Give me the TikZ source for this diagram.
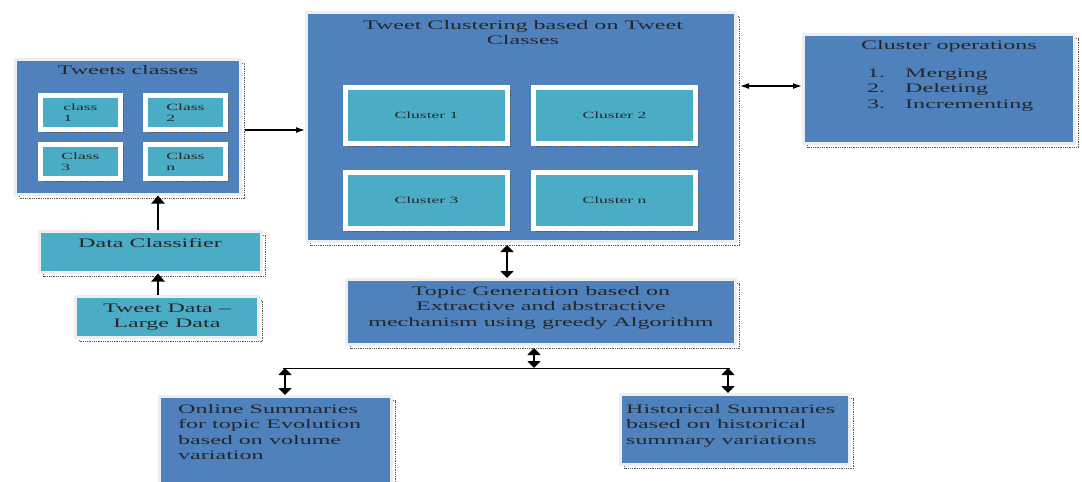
\documentclass[tikz,border=0pt]{standalone}
\usepackage{fontspec}
\setmainfont[FakeStretch=1.85]{Liberation Serif}
\usetikzlibrary{arrows.meta,shadows,positioning}

\definecolor{boxblue}{HTML}{4F81BD}
\definecolor{boxcyan}{HTML}{4BACC6}
\definecolor{framegray}{HTML}{EEEEEE}

\tikzset{
  boxshadow/.style={general shadow={draw=black!65, densely dotted, line width=0.8pt, shadow xshift=#1, shadow yshift=-#1}},
  boxshadow/.default=4pt,
  bluebox/.style={boxshadow, fill=boxblue, draw=framegray, line width=3pt, inner sep=0pt},
  cyanbox/.style={boxshadow, fill=boxcyan, draw=framegray, line width=3pt, inner sep=0pt,
    font=\fontsize{13}{15.5}\selectfont, text=black!85, align=center},
  classbox/.style={boxshadow=3pt, fill=boxcyan, draw=white, line width=5pt, inner sep=0pt,
    minimum width=80pt, minimum height=34pt, font=\fontsize{9.5}{11.5}\selectfont, text=black!85, align=left},
  clusterbox/.style={classbox, minimum width=162pt, minimum height=56pt, align=center},
  txt/.style={font=\fontsize{13}{15.5}\selectfont, text=black!85, inner sep=0pt, align=center},
  boxtitle/.style={txt, anchor=base},
  thickarr/.style={line width=2.6pt, -{Triangle[length=8pt,width=13pt]}},
  thickdbl/.style={line width=2.6pt, {Triangle[length=7pt,width=13pt]}-{Triangle[length=7pt,width=13pt]}},
  thinarr/.style={line width=1.3pt, -{Latex[length=9pt,width=6pt]}},
  thindbl/.style={line width=1.3pt, {Latex[length=9pt,width=6pt]}-{Latex[length=9pt,width=6pt]}}
}

\begin{document}
\begin{tikzpicture}[x=1pt, y=-1pt]
\useasboundingbox (0,0) rectangle (1082,482);
% tweets classes
\node[bluebox, minimum width=225pt, minimum height=135pt] (classes) at (128,126.5) {};
\node[boxtitle] (classtitle) at (128,74) {Tweets classes};
\node[classbox] (c1) at (80.5,112.5) {class\\1};
\node[classbox] (c2) at (185.5,112.5) {Class\\2};
\node[classbox] (c3) at (80.5,161.5) {Class\\3};
\node[classbox] (cn) at (185.5,161.5) {Class\\n};
% classifier and data
\node[cyanbox, minimum width=222pt, minimum height=41pt] (dc) at (150.5,251.5) {};
\node[boxtitle] (dctitle) at (150,247) {Data Classifier};
\node[cyanbox, minimum width=183pt, minimum height=41pt] (td) at (167,317) {Tweet Data –\\Large Data};
% clustering
\node[bluebox, minimum width=429pt, minimum height=229pt] (clust) at (521,127) {};
\node[txt, anchor=north] (clusttitle) at (523,20) {Tweet Clustering based on Tweet\\Classes};
\node[clusterbox] (k1) at (426.5,115.5) {Cluster 1};
\node[clusterbox] (k2) at (614.5,115.5) {Cluster 2};
\node[clusterbox] (k3) at (426.5,200) {Cluster 3};
\node[clusterbox] (kn) at (614.5,200) {Cluster n};
% operations
\node[bluebox, minimum width=271pt, minimum height=109pt] (ops) at (939,89) {};
\node[boxtitle] (opstitle) at (949,49) {Cluster operations};
\node[txt, anchor=base west] (opslist) at (867,77)
  {\begin{tabular}[t]{@{}l@{\hspace{20pt}}l@{}}1. & Merging\\ 2. & Deleting\\ 3. & Incrementing\end{tabular}};
% topic generation
\node[bluebox, minimum width=389pt, minimum height=65pt] (topic) at (541,312) {};
\node[txt] (topictxt) at (541,307.5) {Topic Generation based on\\Extractive and abstractive\\mechanism using greedy Algorithm};
% summaries
\node[bluebox, minimum width=232pt, minimum height=87pt] (online) at (275.5,440) {};
\node[txt, anchor=north west, align=left] (onlinetxt) at (178,404) {Online Summaries\\for topic Evolution\\based on volume\\variation};
\node[bluebox, minimum width=229pt, minimum height=70pt] (hist) at (735,429.5) {};
\node[txt, anchor=north west, align=left] (histtxt) at (626,404) {Historical Summaries\\based on historical\\summary variations};
\coordinate (split) at (534,368);
\coordinate (lineL) at (283,368);
\coordinate (lineR) at (730,368);
% connectors
\draw[thickarr] ([xshift=7.5pt]dc.north) -- ([xshift=7.5pt]dc.north |- classes.south);
\draw[thickarr] ([xshift=-9pt]td.north) -- ([xshift=-9pt]td.north |- dc.south);
\draw[thinarr, shorten <=3pt] ([yshift=-3.5pt]classes.east) -- ([yshift=-3.5pt]classes.east -| clust.west);
\draw[thindbl, shorten <=3pt] ([yshift=41pt]clust.east) -- ([yshift=41pt]clust.east -| ops.west);
\draw[thickdbl, shorten <=2pt] ([xshift=-14pt]clust.south) -- ([xshift=-14pt]clust.south |- topic.north);
\draw[thickdbl, shorten <=2pt] ([xshift=-7pt]topic.south) -- (split);
\draw[line width=1pt] (lineL) -- (lineR);
\draw[thickdbl] ([xshift=9.5pt]online.north |- lineL) -- ([xshift=9.5pt]online.north);
\draw[thickdbl] ([xshift=-7pt]hist.north |- lineL) -- ([xshift=-7pt]hist.north);
\end{tikzpicture}
\end{document}
